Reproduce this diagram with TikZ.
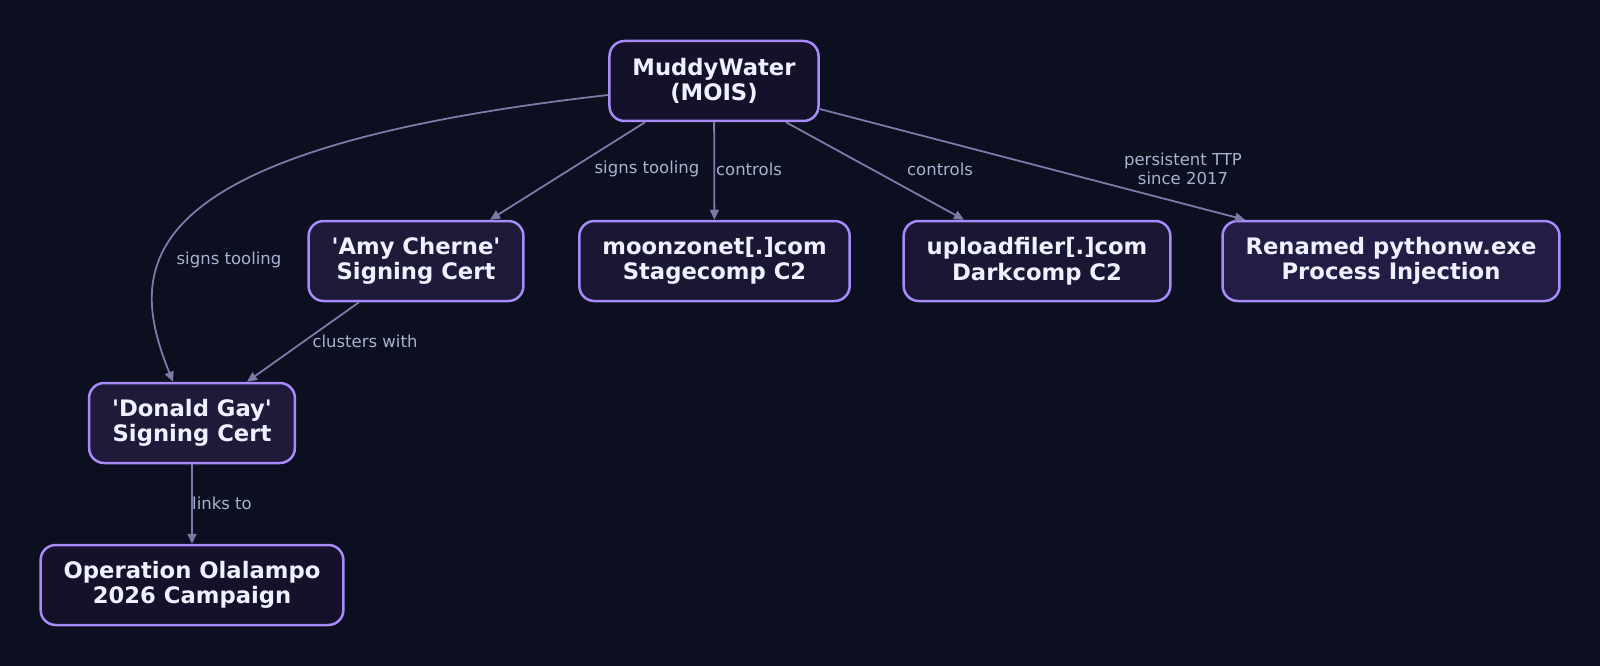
\documentclass[tikz,border=0pt]{standalone}
\usepackage{fontspec}
\setmainfont{DejaVu Sans}[Ligatures=TeXOff]
\usepackage{xcolor}
\usetikzlibrary{arrows.meta, positioning}

\definecolor{canvas}{HTML}{0B0F1F}
\definecolor{rim}{HTML}{A78BFA}
\definecolor{fillA}{HTML}{15112A}
\definecolor{fillB}{HTML}{1A1633}
\definecolor{fillC}{HTML}{1F1A3A}
\definecolor{fillD}{HTML}{231D45}
\definecolor{ink}{HTML}{EEF1FF}
\definecolor{wire}{HTML}{7E7AA8}
\definecolor{lblink}{HTML}{A8B4CF}

\begin{document}
\begin{tikzpicture}[x=1pt, y=-1pt, >={Triangle[length=10pt,width=9pt]}, font=\fontsize{22.7}{25.5}\selectfont\bfseries]
    \tikzstyle{actor} = [draw=rim, fill=fillA, text=ink, rectangle, rounded corners=15pt, align=center, inner xsep=23pt, minimum height=80pt, line width=2.5pt]
    \tikzstyle{infra} = [actor, fill=fillB]
    \tikzstyle{cert} = [actor, fill=fillC]
    \tikzstyle{ttp} = [actor, fill=fillD]
    \tikzstyle{wirelbl} = [text=lblink, align=center, font=\fontsize{16.5}{18.4}\selectfont]
    \tikzstyle{link} = [->, draw=wire, line width=1.8pt]

    \fill[canvas] (0,0) rectangle (1600,666);

    \node [actor] (muddy) at (714,81) {MuddyWater\\(MOIS)};
    \node [cert] (amy) at (416,261) {'Amy Cherne'\\Signing Cert};
    \node [infra] (moon) at (714.5,261) {moonzonet[.]com\\Stagecomp C2};
    \node [infra] (upload) at (1037,261) {uploadfiler[.]com\\Darkcomp C2};
    \node [ttp] (python) at (1391,261) {Renamed pythonw.exe\\Process Injection};
    \node [cert] (donald) at (192,423) {'Donald Gay'\\Signing Cert};
    \node [actor] (olalampo) at (192,585) {Operation Olalampo\\2026 Campaign};

    \draw [link] (muddy.west |- 0,95) .. controls (120,150) and (128,270) .. (donald.north -| 173,0);
    \draw [link] (muddy.south -| 645,0) -- (amy.north -| 490,0);
    \draw [link] (muddy) -- (moon);
    \draw [link] (muddy.south -| 786,0) -- (upload.north -| 964,0);
    \draw [link] (muddy.east |- 0,109) -- (python.north -| 1245,0);
    \draw [link] (amy.south -| 359,0) -- (donald.north -| 247,0);
    \draw [link] (donald) -- (olalampo);

    \node [wirelbl] (lbl1) at (229,260) {signs tooling};
    \node [wirelbl] (lbl2) at (647,169) {signs tooling};
    \node [wirelbl] (lbl3) at (749,169) {controls};
    \node [wirelbl] (lbl4) at (940,169) {controls};
    \node [wirelbl] (lbl5) at (1183,169) {persistent TTP\\since 2017};
    \node [wirelbl] (lbl6) at (365,341) {clusters with};
    \node [wirelbl] (lbl7) at (222,503) {links to};
\end{tikzpicture}
\end{document}
